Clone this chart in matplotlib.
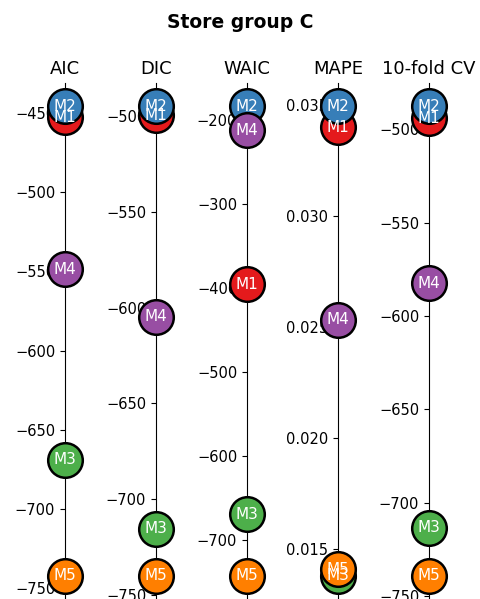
import matplotlib
matplotlib.use('Agg')
import matplotlib.pyplot as plt

models = ['M1', 'M2', 'M3', 'M4', 'M5']
colors = ['#e41a1c', '#377eb8', '#4daf4a', '#984ea3', '#ff7f00']
criteria = ['AIC', 'DIC', 'WAIC', 'MAPE', '10-fold CV']

aic = [-452.5, -445.6, -669.0, -548.7, -742.0]
dic = [-499.5, -494.8, -715.5, -604.7, -740.0]
waic = [-395.0, -183.0, -669.0, -212.0, -742.0]
mape = [0.0340, 0.03495, 0.01381, 0.02532, 0.01409]
cv10 = [-494.0, -487.6, -713.4, -582.4, -739.0]
scores = [aic, dic, waic, mape, cv10]

fig = plt.figure(figsize=(4.81, 5.99), dpi=100)
fig.suptitle('Store group C', fontweight='bold', fontsize=13.5, y=0.978)

centers = [65, 156, 247, 338, 429]
w = 80
for i, (name, vals) in enumerate(zip(criteria, scores)):
    ax = fig.add_axes([(centers[i] - w / 2) / 481, 0.0, w / 481, 0.862])
    for j, m in enumerate(models):
        ax.scatter(0, vals[j], s=620, color=colors[j], edgecolor='black',
                   linewidth=1.8, zorder=3 + j, clip_on=False)
        # labels go on top of every circle
        ax.text(0, vals[j], m, color='white', ha='center', va='center',
                fontsize=11, zorder=20)
    ax.set_xlim(-1, 1)
    ax.spines['left'].set_position(('axes', 0.5))
    for s in ['right', 'top', 'bottom']:
        ax.spines[s].set_visible(False)
    ax.set_xticks([])
    ax.tick_params(axis='y', labelsize=10.5)
    ax.set_title(name, fontsize=13)

plt.savefig('out.png', dpi=100)
